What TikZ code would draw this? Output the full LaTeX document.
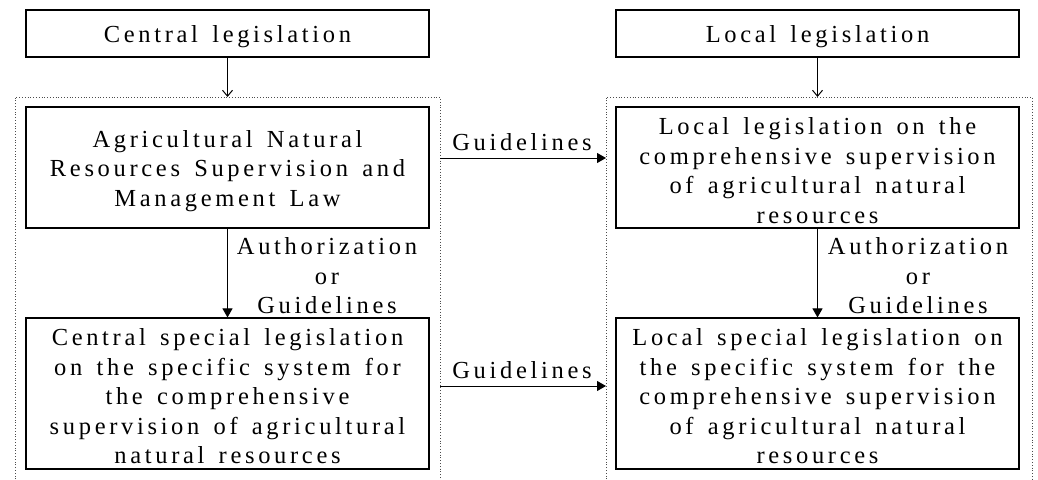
\documentclass[tikz,border=0pt]{standalone}
\usepackage{fontspec}
\setmainfont{Liberation Serif}[LetterSpace=15,WordSpace=1.45]
\usetikzlibrary{arrows.meta}
\begin{document}
\begin{tikzpicture}[x=1pt,y=-1pt,
  txt/.style={font=\fontsize{24.5}{29.5}\selectfont},
  box/.style={draw, line width=1.1pt, minimum width=403pt, inner sep=0pt},
  lbl/.style={txt, align=center, inner sep=0pt},
  dotbox/.style={draw=gray!60!black, dotted, line width=0.8pt},
  openarrow/.style={-{Straight Barb[length=6pt,width=10pt]}, line width=1pt},
  fillarrow/.style={-{Triangle[length=9pt,width=10pt]}, line width=1pt}]
\useasboundingbox (0,0) rectangle (1038,479);
% dotted groups
\draw[dotbox] (15,482) -- (15,97) -- (440,97) -- (440,482);
\draw[dotbox] (606,482) -- (606,97) -- (1032,97) -- (1032,482);
% left column boxes
\node[box, minimum height=47pt] (cl) at (227.5,33.5) {};
\node[box, minimum height=121pt] (anr) at (227.5,167.5) {};
\node[box, minimum height=151pt] (csl) at (227.5,393.5) {};
% right column boxes
\node[box, minimum height=47pt] (ll) at (817.5,33.5) {};
\node[box, minimum height=121pt] (lcs) at (817.5,167.5) {};
\node[box, minimum height=151pt] (lsl) at (817.5,393.5) {};
% box texts
\node[lbl] (cl-t) at (227.5,36.5) {Central legislation};
\node[lbl] (anr-t) at (227.5,171) {Agricultural Natural\\Resources Supervision and\\Management Law};
\node[lbl] (csl-t) at (227.5,396.5) {Central special legislation\\on the specific system for\\the comprehensive\\supervision of agricultural\\natural resources};
\node[lbl] (ll-t) at (817.5,36.5) {Local legislation};
\node[lbl] (lcs-t) at (817.5,170.5) {Local legislation on the\\comprehensive supervision\\of agricultural natural\\resources};
\node[lbl] (lsl-t) at (817.5,396.5) {Local special legislation on\\the specific system for the\\comprehensive supervision\\of agricultural natural\\resources};
% coordinates on dotted group borders
\coordinate (ltop) at (227.5,97);
\coordinate (rtop) at (817.5,97);
\coordinate (g1s) at (440,158);
\coordinate (g1e) at (606,158);
\coordinate (g2s) at (440,386);
\coordinate (g2e) at (606,386);
% connectors
\draw[openarrow] (cl) -- (ltop);
\draw[openarrow] (ll) -- (rtop);
\draw[fillarrow] (anr) -- (csl);
\draw[fillarrow] (lcs) -- (lsl);
\draw[fillarrow] (g1s) -- (g1e);
\draw[fillarrow] (g2s) -- (g2e);
% labels
\node[lbl] (a1) at (327,276) {Authorization\\or\\Guidelines};
\node[lbl] (a2) at (918,276) {Authorization\\or\\Guidelines};
\node[lbl] (gl1) at (522,142) {Guidelines};
\node[lbl] (gl2) at (522,370) {Guidelines};
\end{tikzpicture}
\end{document}
